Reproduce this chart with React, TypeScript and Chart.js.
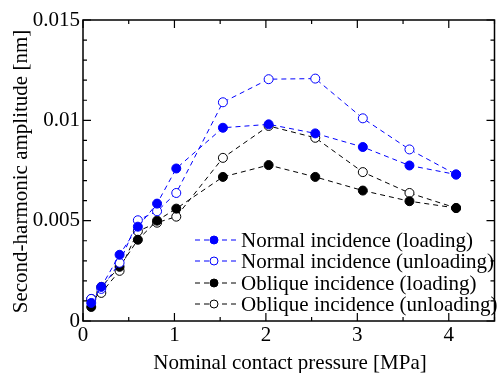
import React, { useEffect, useRef } from "react";
import { Chart, registerables } from "chart.js";

Chart.register(...registerables);

const pressure = [0.09, 0.2, 0.4, 0.6, 0.81, 1.02, 1.53, 2.03, 2.54, 3.06, 3.57, 4.08];
const normalLoading = [0.0009, 0.0017, 0.0033, 0.0047, 0.00585, 0.0076, 0.00963, 0.0098, 0.00935, 0.00867, 0.00775, 0.0073];
const normalUnloading = [0.0011, 0.0016, 0.0029, 0.00502, 0.00547, 0.00638, 0.0109, 0.01205, 0.01208, 0.0101, 0.00855, 0.0073];
const obliqueLoading = [0.0007, 0.0017, 0.0027, 0.00405, 0.005, 0.0056, 0.00718, 0.00777, 0.00718, 0.0065, 0.00597, 0.00563];
const obliqueUnloading = [0.0011, 0.0014, 0.0025, 0.00447, 0.0049, 0.0052, 0.00813, 0.00972, 0.00913, 0.00742, 0.00638, 0.00563];

const seriesNames = [
  "Normal incidence (loading)",
  "Normal incidence (unloading)",
  "Oblique incidence (loading)",
  "Oblique incidence (unloading)",
];
const xMajorTicks = [0, 1, 2, 3, 4];
const xMinorTicks = [0.5, 1.5, 2.5, 3.5, 4.5];
const yMajorTicks = [0, 0.005, 0.01, 0.015];
const yMajorLabels = ["0", "0.005", "0.01", "0.015"];
const yMinorTicks = [0.001, 0.002, 0.003, 0.004, 0.006, 0.007, 0.008, 0.009, 0.011, 0.012, 0.013, 0.014];
const xTitle = "Nominal contact pressure [MPa]";
const yTitle = "Second-harmonic amplitude [nm]";

const FONT = "'Liberation Serif', 'DejaVu Serif', serif";
const BLUE = "#0000ff";
const BLACK = "#000000";

function toPoints(ys: number[]) {
  return pressure.map((x, i) => ({ x, y: ys[i] }));
}

const axesPlugin = {
  id: "customAxes",
  afterDatasetsDraw(chart: any) {
    const { ctx, chartArea } = chart;
    const xs = chart.scales.x;
    const ys = chart.scales.y;
    const { left, right, top, bottom } = chartArea;
    ctx.save();
    ctx.strokeStyle = "#000";
    ctx.lineWidth = 1.5;
    ctx.strokeRect(left, top, right - left, bottom - top);

    ctx.lineWidth = 1.2;
    const tickX = (v: number, len: number) => {
      const p = xs.getPixelForValue(v);
      ctx.beginPath();
      ctx.moveTo(p, bottom);
      ctx.lineTo(p, bottom - len);
      ctx.moveTo(p, top);
      ctx.lineTo(p, top + len);
      ctx.stroke();
    };
    const tickY = (v: number, len: number) => {
      const p = ys.getPixelForValue(v);
      ctx.beginPath();
      ctx.moveTo(left, p);
      ctx.lineTo(left + len, p);
      ctx.moveTo(right, p);
      ctx.lineTo(right - len, p);
      ctx.stroke();
    };
    xMajorTicks.forEach((v) => tickX(v, 8));
    xMinorTicks.forEach((v) => tickX(v, 4));
    yMajorTicks.forEach((v) => tickY(v, 8));
    yMinorTicks.forEach((v) => tickY(v, 4));

    ctx.fillStyle = "#000";
    ctx.font = `21px ${FONT}`;
    ctx.textAlign = "right";
    ctx.textBaseline = "middle";
    yMajorTicks.forEach((v, i) => {
      ctx.fillText(yMajorLabels[i], left - 3, ys.getPixelForValue(v));
    });
    ctx.textAlign = "center";
    ctx.textBaseline = "top";
    xMajorTicks.forEach((v) => {
      ctx.fillText(String(v), xs.getPixelForValue(v), bottom + 4);
    });

    ctx.font = `21px ${FONT}`;
    ctx.textBaseline = "alphabetic";
    ctx.fillText(xTitle, 290, 369);
    ctx.save();
    ctx.translate(27, (top + bottom) / 2 + 1);
    ctx.rotate(-Math.PI / 2);
    ctx.textAlign = "center";
    ctx.fillText(yTitle, 0, 0);
    ctx.restore();

    // legend
    const rows = [240, 261, 283, 304];
    chart.data.datasets.forEach((ds: any, i: number) => {
      const y = rows[i];
      ctx.strokeStyle = ds.borderColor;
      ctx.lineWidth = 1;
      ctx.setLineDash([5, 4]);
      ctx.beginPath();
      ctx.moveTo(195, y);
      ctx.lineTo(236, y);
      ctx.stroke();
      ctx.setLineDash([]);
      ctx.beginPath();
      ctx.arc(214, y, 4, 0, Math.PI * 2);
      ctx.fillStyle = ds.pointBackgroundColor;
      ctx.fill();
      ctx.strokeStyle = ds.pointBorderColor;
      ctx.stroke();
      ctx.fillStyle = "#000";
      ctx.font = `21px ${FONT}`;
      ctx.textAlign = "left";
      ctx.textBaseline = "middle";
      ctx.fillText(ds.label, 241, y + 1);
    });
    ctx.restore();
  },
};

function makeDataset(label: string, ys: number[], color: string, filled: boolean) {
  return {
    label,
    data: toPoints(ys),
    borderColor: color,
    borderWidth: 1,
    borderDash: [5, 4],
    pointRadius: 4.5,
    pointBorderWidth: 1,
    pointBackgroundColor: filled ? color : "#ffffff",
    pointBorderColor: color,
    showLine: true,
    fill: false,
    tension: 0,
  };
}

export default function App() {
  const ref = useRef<HTMLCanvasElement | null>(null);
  useEffect(() => {
    document.body.style.margin = "0";
    const canvas = ref.current;
    if (!canvas) return;
    const chart = new Chart(canvas, {
      type: "scatter",
      data: {
        datasets: [
          makeDataset(seriesNames[0], normalLoading, BLUE, true),
          makeDataset(seriesNames[1], normalUnloading, BLUE, false),
          makeDataset(seriesNames[2], obliqueLoading, BLACK, true),
          makeDataset(seriesNames[3], obliqueUnloading, BLACK, false),
        ] as any,
      },
      options: {
        responsive: false,
        animation: false,
        layout: { padding: { left: 83, right: 2, top: 20, bottom: 52 } },
        plugins: { legend: { display: false }, tooltip: { enabled: false } },
        scales: {
          x: { type: "linear", min: 0, max: 4.5, display: false },
          y: { type: "linear", min: 0, max: 0.015, display: false },
        },
      },
      plugins: [axesPlugin],
    });
    return () => chart.destroy();
  }, []);
  return <canvas ref={ref} width={500} height={373} style={{ display: "block" }} />;
}
